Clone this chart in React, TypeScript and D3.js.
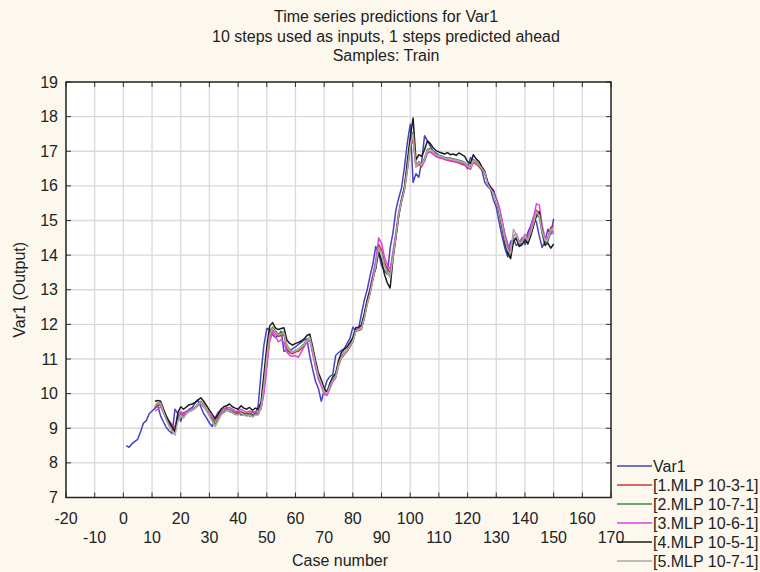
import React from "react";
import * as d3 from "d3";

// observed series, cases 1..150
const var1 = [
  8.5, 8.45, 8.55, 8.62, 8.68, 8.9, 9.15, 9.22, 9.42, 9.5,
  9.58, 9.65, 9.35, 9.18, 9.02, 8.92, 8.85, 9.55, 9.42, 9.2,
  9.45, 9.48, 9.55, 9.6, 9.72, 9.82, 9.62, 9.42, 9.3, 9.15,
  9.05, 9.3, 9.45, 9.52, 9.55, 9.58, 9.48, 9.45, 9.4, 9.5,
  9.38, 9.4, 9.45, 9.35, 9.48, 9.42, 9.65, 10.6, 11.4, 11.88,
  11.85, 11.7, 11.62, 11.68, 11.8, 11.22, 11.25, 11.2, 11.3, 11.35,
  11.42, 11.48, 11.55, 11.58, 11.08, 10.7, 10.35, 10.15, 9.78, 10.1,
  10.38, 10.5, 10.55, 11.1, 11.18, 11.25, 11.3, 11.45, 11.6, 11.92,
  11.8, 11.88, 12.3, 12.7, 13.0, 13.4, 13.75, 14.25, 14.05, 13.7,
  13.55, 13.45, 14.2, 14.65, 15.3, 15.65, 15.95, 16.55, 17.25, 17.78,
  16.1, 16.35, 16.25, 16.7, 17.45, 17.3, 17.15, 17.0, 16.95, 16.88,
  16.85, 16.82, 16.8, 16.8, 16.78, 16.75, 16.72, 16.7, 16.62, 16.5,
  16.82, 16.75, 16.68, 16.55, 16.45, 16.1, 15.98, 15.9, 15.6, 15.38,
  14.95, 14.55, 14.2, 13.95, 14.4, 14.45, 14.28, 14.35, 14.5, 14.3,
  14.65, 14.85, 15.1, 14.95, 14.55, 14.22, 14.4, 14.75, 14.6, 15.05,
];

// predictions, cases 11..150
const mlp1 = [
  9.58, 9.66, 9.68, 9.48, 9.3, 9.18, 9.08, 8.98, 9.3, 9.42,
  9.38, 9.45, 9.5, 9.52, 9.58, 9.66, 9.72, 9.64, 9.52, 9.4,
  9.3, 9.22, 9.32, 9.42, 9.48, 9.52, 9.54, 9.5, 9.46, 9.44,
  9.48, 9.44, 9.42, 9.44, 9.4, 9.42, 9.44, 9.58, 10.1, 10.9,
  11.6, 11.85, 11.75, 11.65, 11.68, 11.7, 11.3, 11.18, 11.15, 11.2,
  11.22, 11.3, 11.4, 11.5, 11.58, 11.2, 10.8, 10.48, 10.28, 10.02,
  9.98, 10.18, 10.35, 10.45, 10.8, 11.02, 11.12, 11.22, 11.35, 11.5,
  11.8, 11.82, 11.86, 12.18, 12.58, 12.9, 13.3, 13.68, 14.3, 14.15,
  13.8, 13.6, 13.5, 14.0, 14.55, 15.15, 15.55, 15.88, 16.45, 17.1,
  17.35, 16.55, 16.62, 16.55, 16.72, 16.95, 16.98, 16.92, 16.85, 16.82,
  16.8, 16.76, 16.74, 16.72, 16.7, 16.68, 16.66, 16.62, 16.6, 16.52,
  16.48, 16.68, 16.62, 16.56, 16.48, 16.36, 16.08, 15.95, 15.85, 15.62,
  15.38, 15.0, 14.6, 14.3, 14.1, 14.42, 14.48, 14.32, 14.38, 14.52,
  14.45, 14.7, 14.95, 15.3, 15.2, 14.78, 14.45, 14.5, 14.8, 14.85,
];
const mlp2 = [
  9.62, 9.72, 9.7, 9.45, 9.25, 9.1, 9.0, 8.9, 9.28, 9.4,
  9.32, 9.45, 9.5, 9.55, 9.6, 9.7, 9.78, 9.68, 9.52, 9.38,
  9.25, 9.12, 9.25, 9.4, 9.48, 9.52, 9.55, 9.48, 9.42, 9.4,
  9.46, 9.4, 9.36, 9.4, 9.36, 9.4, 9.4, 9.6, 10.35, 11.2,
  11.8, 11.92, 11.82, 11.72, 11.75, 11.78, 11.4, 11.28, 11.2, 11.26,
  11.28, 11.36, 11.44, 11.55, 11.62, 11.28, 10.88, 10.55, 10.32, 10.08,
  10.0, 10.22, 10.4, 10.5, 10.88, 11.08, 11.18, 11.26, 11.38, 11.52,
  11.82, 11.84, 11.88, 12.22, 12.62, 12.92, 13.32, 13.72, 14.2, 14.08,
  13.72, 13.5, 13.38, 14.0, 14.58, 15.2, 15.62, 15.95, 16.52, 17.2,
  17.55, 16.58, 16.7, 16.62, 16.8, 17.05, 17.08, 17.0, 16.92, 16.88,
  16.86, 16.82, 16.8, 16.8, 16.78, 16.76, 16.74, 16.72, 16.68, 16.6,
  16.55, 16.76, 16.7, 16.62, 16.52, 16.4, 16.08, 15.92, 15.82, 15.58,
  15.3, 14.9, 14.48, 14.18, 14.0, 14.45, 14.52, 14.3, 14.35, 14.5,
  14.38, 14.6, 14.88, 15.15, 15.1, 14.62, 14.35, 14.4, 14.65, 14.7,
];
const mlp3 = [
  9.5, 9.55, 9.62, 9.45, 9.32, 9.2, 9.1, 9.05, 9.38, 9.48,
  9.4, 9.5, 9.52, 9.55, 9.58, 9.65, 9.7, 9.62, 9.52, 9.42,
  9.32, 9.25, 9.35, 9.48, 9.56, 9.6, 9.6, 9.55, 9.5, 9.48,
  9.55, 9.5, 9.46, 9.5, 9.45, 9.48, 9.5, 9.55, 10.0, 10.75,
  11.5, 11.78, 11.65, 11.5, 11.55, 11.48, 11.2, 11.1, 11.08, 11.1,
  11.05, 11.2, 11.35, 11.48, 11.55, 11.15, 10.75, 10.4, 10.22, 9.98,
  9.95, 10.15, 10.35, 10.48, 10.85, 11.05, 11.15, 11.25, 11.4, 11.58,
  11.88, 11.9, 11.95, 12.3, 12.7, 13.05, 13.45, 13.85, 14.5, 14.35,
  13.95, 13.72, 13.6, 14.1, 14.65, 15.25, 15.62, 15.95, 16.55, 17.25,
  17.4, 16.6, 16.65, 16.58, 16.72, 16.98, 16.98, 16.92, 16.86, 16.82,
  16.8, 16.78, 16.76, 16.74, 16.72, 16.7, 16.68, 16.65, 16.62, 16.55,
  16.5, 16.72, 16.66, 16.6, 16.5, 16.38, 16.12, 15.98, 15.88, 15.65,
  15.4, 15.0, 14.6, 14.32, 14.15, 14.55, 14.62, 14.4, 14.45, 14.6,
  14.5, 14.8, 15.1, 15.48, 15.45, 14.85, 14.5, 14.45, 14.75, 14.6,
];
const mlp4 = [
  9.78, 9.8, 9.78, 9.55, 9.35, 9.18, 9.05, 8.9, 9.45, 9.62,
  9.55, 9.62, 9.68, 9.7, 9.75, 9.82, 9.88, 9.78, 9.65, 9.52,
  9.4, 9.28, 9.4, 9.55, 9.62, 9.65, 9.7, 9.62, 9.58, 9.55,
  9.65, 9.58, 9.55, 9.6, 9.52, 9.58, 9.55, 9.75, 10.55, 11.35,
  11.95, 12.05, 11.9, 11.85, 11.88, 11.9, 11.55, 11.45, 11.4, 11.45,
  11.48, 11.52, 11.58, 11.68, 11.72, 11.35, 10.95, 10.6, 10.4, 10.15,
  10.05, 10.3, 10.48, 10.58, 10.95, 11.18, 11.28, 11.35, 11.48, 11.62,
  11.9, 11.92, 11.98, 12.3, 12.7, 12.98, 13.35, 13.62, 14.1, 13.85,
  13.45, 13.2, 13.05, 13.9, 14.5, 15.15, 15.6, 15.95, 16.7, 17.4,
  17.96, 16.75, 16.9, 16.85, 17.05, 17.3, 17.22, 17.1, 17.02, 16.98,
  16.95, 16.92, 16.96, 16.9, 16.92, 16.88, 16.95, 16.9, 16.85, 16.7,
  16.65, 16.9, 16.78, 16.7, 16.55, 16.42, 16.1, 15.95, 15.85, 15.55,
  15.25, 14.8, 14.35, 14.05, 13.9, 14.4, 14.48, 14.25, 14.3, 14.45,
  14.32, 14.55, 14.85, 15.15, 15.25, 14.7, 14.28, 14.35, 14.2, 14.32,
];
const mlp5 = [
  9.65, 9.75, 9.72, 9.48, 9.25, 9.05, 8.92, 8.8, 9.2, 9.38,
  9.3, 9.42, 9.48, 9.52, 9.58, 9.68, 9.75, 9.65, 9.5, 9.35,
  9.2, 9.05, 9.2, 9.38, 9.45, 9.5, 9.52, 9.45, 9.4, 9.38,
  9.44, 9.38, 9.35, 9.38, 9.32, 9.38, 9.38, 9.58, 10.25, 11.05,
  11.7, 11.88, 11.78, 11.7, 11.72, 11.76, 11.38, 11.25, 11.2, 11.25,
  11.28, 11.35, 11.42, 11.52, 11.62, 11.25, 10.85, 10.5, 10.3, 10.05,
  10.0, 10.22, 10.38, 10.48, 10.85, 11.05, 11.15, 11.25, 11.38, 11.5,
  11.82, 11.84, 11.88, 12.2, 12.6, 12.9, 13.3, 13.7, 14.22, 14.05,
  13.7, 13.48, 13.35, 13.95, 14.55, 15.18, 15.58, 15.9, 16.48, 17.15,
  17.5, 16.55, 16.68, 16.6, 16.78, 17.02, 17.05, 16.98, 16.9, 16.86,
  16.84, 16.8, 16.78, 16.78, 16.76, 16.74, 16.72, 16.7, 16.66, 16.58,
  16.52, 16.74, 16.68, 16.6, 16.5, 16.38, 16.05, 15.9, 15.8, 15.55,
  15.28, 14.88, 14.45, 14.15, 14.05, 14.75, 14.58, 14.35, 14.38, 14.55,
  14.42, 14.65, 14.92, 15.25, 15.15, 14.68, 14.42, 14.48, 14.72, 14.78,
];

const seriesNames = ["Var1", "[1.MLP 10-3-1]", "[2.MLP 10-7-1]", "[3.MLP 10-6-1]", "[4.MLP 10-5-1]", "[5.MLP 10-7-1]"];
const seriesColors = ["#4444c4", "#c83a3a", "#3f8a3f", "#e040e0", "#1c1c1c", "#a9a9a1"];
const xTicks = d3.range(-20, 171, 10);
const yTicks = d3.range(7, 20, 1);

const titleLines = [
  "Time series predictions for Var1",
  "10 steps used as inputs, 1 steps predicted ahead",
  "Samples: Train",
];

const W = 760, H = 572;
const margin = { left: 66, right: 149, top: 82, bottom: 74.5 };
const font = "'Liberation Sans', Arial, sans-serif";

export default function App() {
  const x = d3.scaleLinear().domain([-20, 170]).range([margin.left, W - margin.right]);
  const y = d3.scaleLinear().domain([7, 19]).range([H - margin.bottom, margin.top]);

  const toPts = (vals: number[], start: number) => vals.map((v, i) => [start + i, v] as [number, number]);
  const series = [
    toPts(var1, 1),
    toPts(mlp1, 11),
    toPts(mlp2, 11),
    toPts(mlp3, 11),
    toPts(mlp4, 11),
    toPts(mlp5, 11),
  ];

  const line = d3.line<[number, number]>().x(d => x(d[0])).y(d => y(d[1]));

  const [x0, x1] = x.range();
  const [y0, y1] = [y(19), y(7)];

  return (
    <svg width={W} height={H} style={{ position: "absolute", left: 0, top: 0 }} fontFamily={font}>
      <rect width={W} height={H} fill="#fcf8ee" />
      {titleLines.map((t, i) => (
        <text key={i} x={386} y={22 + i * 19.5} textAnchor="middle" fontSize={16} fill="#222">{t}</text>
      ))}
      <rect x={x0} y={y0} width={x1 - x0} height={y1 - y0} fill="#fff" />
      {/* grid */}
      {xTicks.slice(1, -1).map(t => (
        <line key={"gx" + t} x1={x(t)} x2={x(t)} y1={y0} y2={y1} stroke="#d9d9d9" strokeWidth={1.3} />
      ))}
      {yTicks.slice(1, -1).map(t => (
        <line key={"gy" + t} x1={x0} x2={x1} y1={y(t)} y2={y(t)} stroke="#d9d9d9" strokeWidth={1.3} />
      ))}
      {/* inner ticks */}
      {xTicks.map(t => (
        <g key={"tx" + t}>
          <line x1={x(t)} x2={x(t)} y1={y1} y2={y1 - 5} stroke="#333" />
          <line x1={x(t)} x2={x(t)} y1={y0} y2={y0 + 5} stroke="#333" />
        </g>
      ))}
      {yTicks.map(t => (
        <g key={"ty" + t}>
          <line x1={x0} x2={x0 + 5} y1={y(t)} y2={y(t)} stroke="#333" />
          <line x1={x1} x2={x1 - 5} y1={y(t)} y2={y(t)} stroke="#333" />
        </g>
      ))}
      {/* series */}
      <g>
        {series.map((s, i) => (
          <path key={i} d={line(s) || ""} fill="none" stroke={seriesColors[i]} strokeWidth={1.5} strokeLinejoin="round" />
        ))}
      </g>
      <rect x={x0} y={y0} width={x1 - x0} height={y1 - y0} fill="none" stroke="#222" strokeWidth={1.5} />
      {/* y tick labels */}
      {yTicks.map(t => (
        <text key={"ly" + t} x={x0 - 8} y={y(t) + 5.5} textAnchor="end" fontSize={16} fill="#222">{t}</text>
      ))}
      {/* x tick labels, two staggered rows */}
      {xTicks.map((t, i) => (
        <text key={"lx" + t} x={x(t)} y={i % 2 === 0 ? 524 : 543} textAnchor="middle" fontSize={16} fill="#222">{t}</text>
      ))}
      <text x={340} y={566} textAnchor="middle" fontSize={16} fill="#222">Case number</text>
      <text transform={`translate(25,${(y0 + y1) / 2}) rotate(-90)`} textAnchor="middle" fontSize={16} fill="#222">Var1 (Output)</text>
      {/* legend */}
      {seriesNames.map((n, i) => (
        <g key={"lg" + i} transform={`translate(617,${466 + i * 19})`}>
          <line x1={0} x2={35} y1={0} y2={0} stroke={seriesColors[i]} strokeWidth={1.6} />
          <text x={36} y={5.5} fontSize={16} fill="#222">{n}</text>
        </g>
      ))}
    </svg>
  );
}
